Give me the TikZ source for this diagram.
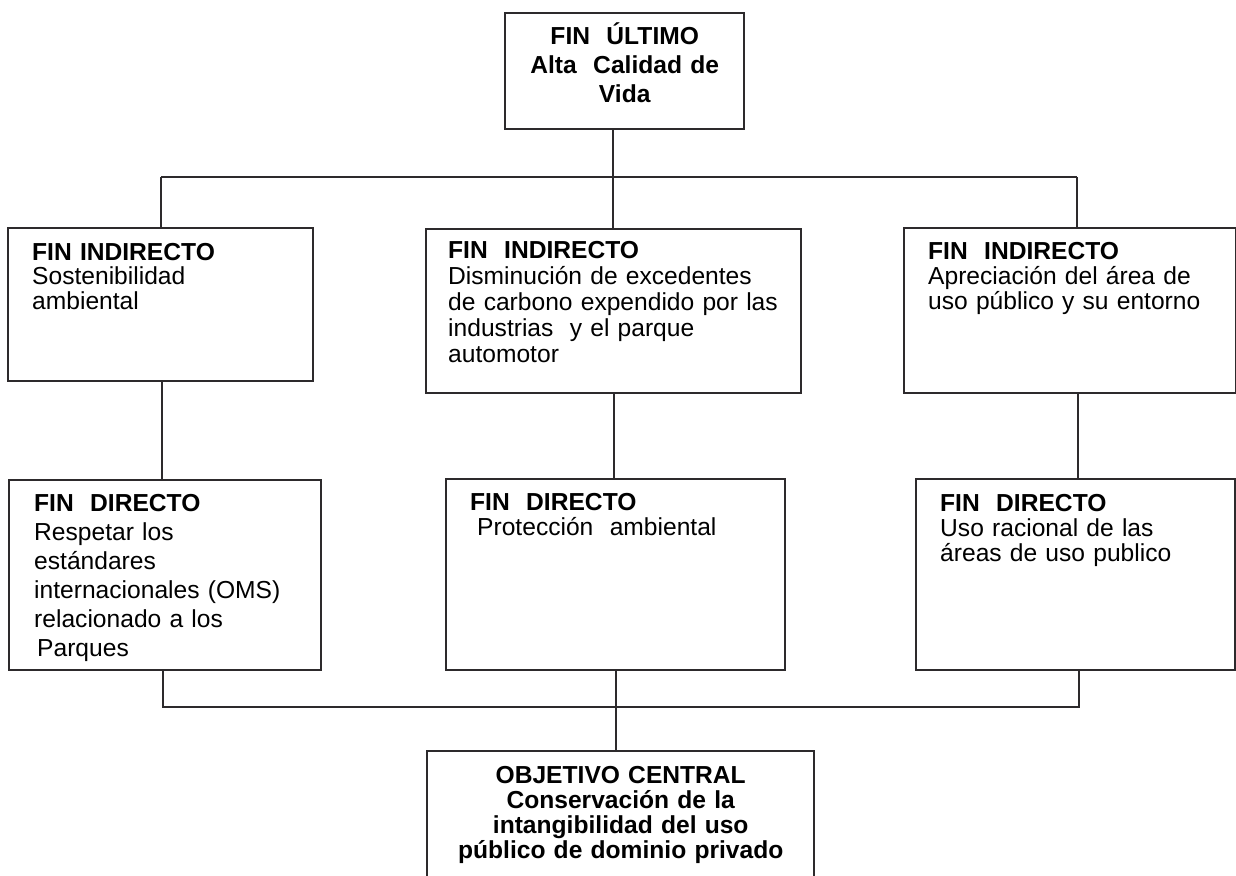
\documentclass[tikz,border=0pt]{standalone}
\usepackage{fontspec}
\setmainfont{Liberation Sans}
\usepackage{tikz}

\begin{document}
\begin{tikzpicture}[
  x=0.5pt, y=-0.5pt,
  every node/.style={
    draw=lineish,
    line width=1.2pt,
    anchor=north west,
    align=left,
    inner ysep=0pt,
    inner xsep=12pt,
    font=\fontsize{12.3}{12.5}\selectfont,
  }
]
  \definecolor{lineish}{RGB}{45,42,44}
  \useasboundingbox (0,0) rectangle (1236,876);

  \node[
    align=center,
    inner xsep=0pt,
    text width=119.5pt,
    text height=15.5pt,
    text depth=42.5pt,
    font=\fontsize{12.3}{14.5}\selectfont\bfseries,
  ] (ult) at (504,12)
  {
    FIN\ \ ÚLTIMO\\
    Alta\ \ Calidad de\\
    Vida
  };

  \node[
    text width=128.5pt,
    text height=16pt,
    text depth=60.5pt,
    font=\fontsize{12.3}{12.25}\selectfont,
  ] (ind1) at (7,227)
  {
    \textbf{FIN INDIRECTO}\\
    Sostenibilidad\\
    ambiental
  };
  \node[
    inner xsep=11pt,
    text width=165.5pt,
    text height=14.5pt,
    text depth=67.5pt,
    font=\fontsize{12.3}{13}\selectfont,
  ] (ind2) at (425,228)
  {
    \textbf{FIN\ \ INDIRECTO}\\
    Disminución de excedentes\\
    de carbono expendido por las\\
    industrias\ \ y el parque\\
    automotor
  };
  \node[
    text width=142pt,
    text height=15.5pt,
    text depth=67pt,
  ] (ind3) at (903,227)
  {
    \textbf{FIN\ \ INDIRECTO}\\
    Apreciación del área de\\
    uso público y su entorno
  };

  \node[
    inner xsep=12.5pt,
    text width=131pt,
    text height=15.5pt,
    text depth=79.5pt,
    font=\fontsize{12.3}{14.5}\selectfont,
  ] (dir1) at (8,479)
  {
    \textbf{FIN\ \ DIRECTO}\\
    Respetar los\\
    estándares\\
    internacionales (OMS)\\
    relacionado a los\\
    \hspace*{1.5pt}Parques
  };
  \node[
    text width=145.5pt,
    text height=15.5pt,
    text depth=80pt,
  ] (dir2) at (445,478)
  {
    \textbf{FIN\ \ DIRECTO}\\
    \hspace*{3.5pt}Protección\ \ ambiental
  };
  \node[
    text width=135.5pt,
    text height=16pt,
    text depth=79.5pt,
  ] (dir3) at (915,478)
  {
    \textbf{FIN\ \ DIRECTO}\\
    Uso racional de las\\
    áreas de uso publico
  };

  \node[
    align=center,
    inner xsep=0pt,
    text width=193.5pt,
    text height=16pt,
    text depth=54pt,
    font=\fontsize{12.3}{12.5}\selectfont\bfseries,
  ] (obj) at (426,750)
  {
    OBJETIVO CENTRAL\\
    Conservación de la\\
    intangibilidad del uso\\
    público de dominio privado
  };

  \coordinate (t1) at (161,177);
  \coordinate (t2) at (613,177);
  \coordinate (t3) at (1077,177);
  \coordinate (m1) at (162,430);
  \coordinate (m2) at (614,430);
  \coordinate (m3) at (1078,430);
  \coordinate (b1) at (163,707);
  \coordinate (b2) at (616,707);
  \coordinate (b3) at (1079,707);

  \draw[lineish, line width=1.2pt]
    (ult.south -| t2) -- (t2)
    (t1) -- (t3)
    (t1) -- (t1 |- ind1.north)
    (t2) -- (t2 |- ind2.north)
    (t3) -- (t3 |- ind3.north)
    (m1 |- ind1.south) -- (m1 |- dir1.north)
    (m2 |- ind2.south) -- (m2 |- dir2.north)
    (m3 |- ind3.south) -- (m3 |- dir3.north)
    (b1 |- dir1.south) -- (b1) -- (b3) -- (b3 |- dir3.south)
    (b2 |- dir2.south) -- (b2 |- obj.north);
\end{tikzpicture}
\end{document}
